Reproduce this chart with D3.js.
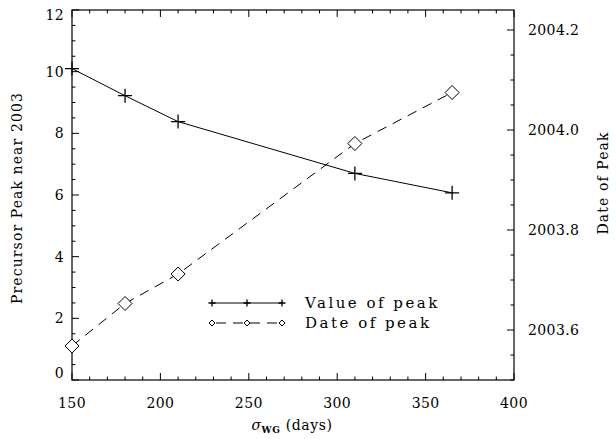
<!DOCTYPE html>
<html><head><meta charset="utf-8">
<script src="https://cdn.jsdelivr.net/npm/d3@7"></script>
<style>body{margin:0;background:#fff}svg{display:block}text{font-family:"DejaVu Serif",serif;fill:#000}</style>
</head><body><svg id="c" width="616" height="439"></svg>
<script>
const sigma = [150, 180, 210, 310, 365];
const peakValue = [10.1, 9.22, 8.38, 6.70, 6.07];
const peakDate = [2003.568, 2003.653, 2003.712, 2003.973, 2004.075];
const xTicks = [150, 200, 250, 300, 350, 400];
const yTicks = [0, 2, 4, 6, 8, 10, 12];
const y2Ticks = [2003.6, 2003.8, 2004.0, 2004.2];
const legendLabels = ["Value of peak", "Date of peak"];

const svg = d3.select("#c");
const L = 72, R = 514, T = 10, B = 380;
const x = d3.scaleLinear().domain([150, 400]).range([L, R]);
const y = d3.scaleLinear().domain([0, 12]).range([B, T]);
const y2 = d3.scaleLinear().domain([2003.5, 2004.24]).range([B, T]);

const g = svg.append("g");
g.append("rect").attr("x", L).attr("y", T).attr("width", R - L).attr("height", B - T)
  .attr("fill", "none").attr("stroke", "#000").attr("stroke-width", 1.2);

function tick(x1, y1, x2, y2_) {
  g.append("line").attr("x1", x1).attr("y1", y1).attr("x2", x2).attr("y2", y2_)
    .attr("stroke", "#000").attr("stroke-width", 1);
}
d3.range(150, 401, 10).forEach(v => {
  const major = v % 50 === 0;
  const len = major ? 7 : 3.5;
  tick(x(v), B, x(v), B - len);
  tick(x(v), T, x(v), T + len);
});
d3.range(0, 12.01, 0.5).forEach(v => {
  const major = Math.abs(v % 2) < 1e-6;
  tick(L, y(v), L + (major ? 7 : 3.5), y(v));
});
d3.range(2003.5, 2004.241, 0.05).forEach(v => {
  const major = Math.abs(Math.round(v * 10) / 10 - v) < 1e-6 && Math.round(v * 10) % 2 === 0;
  tick(R, y2(v), R - (major ? 7 : 3.5), y2(v));
});

const fs = 14;
xTicks.forEach(v => {
  g.append("text").attr("x", x(v)).attr("y", 408).attr("text-anchor", "middle")
    .attr("font-size", fs).attr("letter-spacing", 0.4).text(v);
});
yTicks.forEach(v => {
  let yy = y(v) + 5;
  if (v === 0) yy = y(v) - 2;
  if (v === 12) yy = y(v) + 10;
  g.append("text").attr("x", 64).attr("y", yy).attr("text-anchor", "end")
    .attr("font-size", fs).attr("letter-spacing", 0.4).text(v);
});
y2Ticks.forEach(v => {
  g.append("text").attr("x", 528).attr("y", y2(v) + 5).attr("text-anchor", "start")
    .attr("font-size", fs).attr("letter-spacing", 0.4).text(v.toFixed(1));
});

const xt = g.append("text").attr("x", 292).attr("y", 430).attr("text-anchor", "middle").attr("font-size", fs)
  .attr("letter-spacing", 0.6);
xt.append("tspan").attr("font-style", "italic").text("σ");
xt.append("tspan").attr("font-size", 9).attr("font-weight", "bold").attr("dy", 3).text("WG");
xt.append("tspan").attr("dy", -3).text(" (days)");

g.append("text").attr("transform", "translate(22,198) rotate(-90)").attr("text-anchor", "middle")
  .attr("font-size", fs).attr("letter-spacing", 1.1).text("Precursor Peak near 2003");
g.append("text").attr("transform", "translate(608,183) rotate(-90)").attr("text-anchor", "middle")
  .attr("font-size", fs).attr("letter-spacing", 1.1).text("Date of Peak");

const lineV = d3.line().x((d, i) => x(sigma[i])).y(d => y(d));
const lineD = d3.line().x((d, i) => x(sigma[i])).y(d => y2(d));
g.append("path").attr("d", lineV(peakValue)).attr("fill", "none").attr("stroke", "#000").attr("stroke-width", 1);
g.append("path").attr("d", lineD(peakDate)).attr("fill", "none").attr("stroke", "#000").attr("stroke-width", 1)
  .attr("stroke-dasharray", "10,7");

function plus(cx, cy, s) {
  g.append("path").attr("d", `M${cx - s},${cy}H${cx + s}M${cx},${cy - s}V${cy + s}`)
    .attr("stroke", "#000").attr("stroke-width", 1.3).attr("fill", "none");
}
function diamond(cx, cy, s) {
  g.append("path").attr("d", `M${cx},${cy - s}L${cx + s},${cy}L${cx},${cy + s}L${cx - s},${cy}Z`)
    .attr("stroke", "#000").attr("stroke-width", 1).attr("fill", "#fff");
}
peakValue.forEach((v, i) => plus(x(sigma[i]), y(v), 7));
peakDate.forEach((v, i) => diamond(x(sigma[i]), y2(v), 7));

const lx1 = 212, lx2 = 282, ly1 = 303, ly2 = 323;
g.append("line").attr("x1", lx1).attr("x2", lx2).attr("y1", ly1).attr("y2", ly1).attr("stroke", "#000");
g.append("line").attr("x1", lx1).attr("x2", lx2).attr("y1", ly2).attr("y2", ly2).attr("stroke", "#000")
  .attr("stroke-dasharray", "10,7").attr("stroke-dashoffset", -4);
[lx1, (lx1 + lx2) / 2, lx2].forEach(px => { plus(px, ly1, 3.5); diamond(px, ly2, 3); });
legendLabels.forEach((t, i) => {
  g.append("text").attr("x", 305).attr("y", (i ? ly2 : ly1) + 5).attr("font-size", 15)
    .attr("letter-spacing", 2.5).text(t);
});
</script></body></html>
